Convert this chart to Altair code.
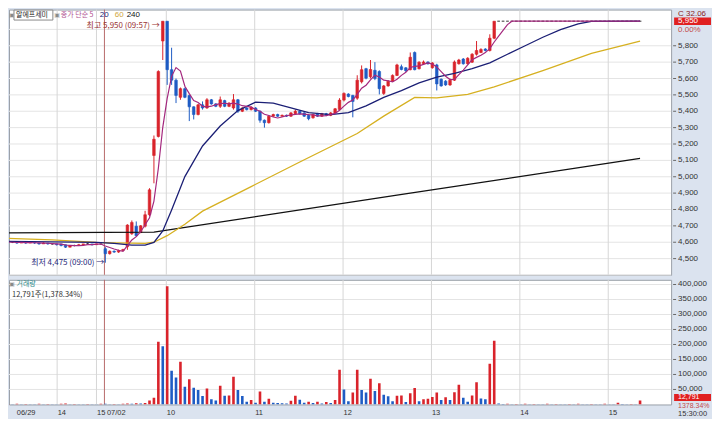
import altair as alt
import numpy as np
import pandas as pd

# ---------------- values ----------------
# 06/29 afternoon, 3-minute candles
open_0629  = [4600,4600,4600,4595,4600,4595,4600,4595,4590,4595,4590,4590,4590,4585,4570,4580,4580,4585,4590,4590,4585,4590]
high_0629  = [4600,4605,4600,4600,4600,4600,4600,4595,4600,4595,4595,4590,4590,4585,4580,4585,4590,4590,4595,4590,4590,4590]
low_0629   = [4595,4595,4590,4595,4590,4595,4590,4585,4590,4585,4585,4580,4575,4565,4570,4575,4580,4585,4585,4580,4585,4585]
close_0629 = [4600,4600,4595,4600,4595,4600,4595,4590,4595,4590,4590,4585,4580,4570,4580,4580,4585,4590,4590,4585,4590,4590]
vol_0629   = [1500,1000,2000,1000,1500,1000,1000,2000,1000,1500,1000,1000,2500,3000,1000,1500,1000,1000,1500,1000,1000,2000]

# 07/02, 3-minute candles (the last 33 bars sit flat at the 5,950 upper limit)
limit_bars = 33
open_0702 = [4560,4530,4545,4540,4550, 4573,4652,4698,4660,4698, 4768,5130,5246,5829,5950,
             5654,5590,5485,5538,5497, 5427,5380,5439,5420,5470, 5445,5430,5465,5430,5420,
             5470,5400,5420,5410,5420, 5400,5345,5330,5370,5380, 5370,5375,5370,5385,5400,
             5390,5375,5360,5385,5370, 5385,5375,5390,5410,5468, 5505,5497,5480,5580,5660,
             5610,5650,5643,5509,5555, 5584,5619,5672,5665,5654, 5759,5660,5690,5701,5666,
             5683,5596,5584,5561,5590, 5690,5719,5690,5700,5748, 5759,5780,5771,5846] + [5950] * limit_bars
high_0702 = [4570,4550,4550,4555,4560, 4710,4733,4727,4705,4792, 4930,5252,5650,5950,5950,
             5788,5600,5545,5545,5500, 5430,5445,5460,5480,5475, 5450,5490,5470,5455,5505,
             5475,5425,5425,5430,5425, 5405,5350,5375,5385,5385, 5380,5380,5395,5410,5405,
             5395,5380,5385,5390,5390, 5390,5395,5420,5480,5515, 5510,5500,5620,5680,5665,
             5713,5700,5650,5560,5590, 5625,5690,5685,5670,5759, 5765,5705,5710,5705,5700,
             5690,5600,5590,5600,5710, 5720,5725,5730,5755,5829, 5785,5785,5870,5950] + [5950] * limit_bars
low_0702  = [4475,4525,4535,4535,4545, 4554,4645,4635,4655,4690, 4760,4960,5240,5713,5561,
             5561,5450,5470,5480,5340, 5350,5375,5410,5415,5440, 5425,5420,5425,5425,5410,
             5390,5395,5405,5405,5395, 5330,5300,5325,5365,5365, 5365,5365,5365,5380,5380,
             5365,5345,5355,5365,5365, 5370,5370,5385,5405,5460, 5485,5363,5470,5570,5595,
             5600,5590,5503,5500,5550, 5580,5615,5650,5640,5650, 5650,5655,5688,5685,5660,
             5527,5550,5555,5555,5585, 5685,5685,5685,5695,5740, 5755,5765,5765,5840] + [5950] * limit_bars
close_0702 = [4530,4545,4540,4550,4555, 4705,4721,4640,4700,4768, 4920,5229,5643,5950,5654,
              5590,5497,5538,5485,5427, 5380,5439,5420,5470,5445, 5430,5470,5430,5450,5470,
              5400,5420,5410,5425,5400, 5345,5330,5370,5380,5370, 5375,5370,5390,5400,5385,
              5370,5355,5380,5370,5385, 5375,5390,5415,5468,5509, 5490,5460,5590,5654,5602,
              5655,5600,5538,5555,5584, 5619,5683,5655,5648,5730, 5654,5700,5701,5690,5695,
              5567,5555,5561,5590,5701, 5713,5690,5724,5748,5771, 5777,5771,5846,5950] + [5950] * limit_bars
vol_0702 = [2000,1000,1500,1000,2000, 3000,2000,4000,3000,5000, 13000,22000,209000,194000,394000,
            112000,90000,142000,59000,84000, 56000,48000,28000,53000,17000, 13000,62000,29000,30000,92000,
            48000,28000,9000,15000,6000, 43000,9000,19000,6000,5000, 4000,3000,12000,29000,16000,
            6000,9000,5000,9000,3500, 8000,5000,15000,116000,50000, 11000,40000,116000,48000,40000,
            86000,45000,71000,32000,27000, 11000,29000,30000,8000,37000, 55000,11000,17000,19000,25000,
            40000,15000,24000,15000,41000, 66000,22000,9000,30000,74000, 20000,17000,136000,212000,
            3000,1500,2000,1000,1500,1000,2000,1000,1500,1000,1000,2000,1000,1500,1000,1000,1500,
            1000,2000,1000,1000,1500,1000,1000,2000,1000,1000,6000,1500,1000,1500,1000,12791]

ma20_g = [0, 20, 24, 28, 31, 33, 35, 37, 40, 44, 48, 52, 56, 60, 64, 68, 73, 77, 81, 85, 89,
          93, 97, 101, 105, 109, 113, 117, 121, 125, 129, 132, 143]
ma20_v = [4605, 4599, 4593, 4582, 4582, 4599, 4669, 4797, 5001, 5188, 5310, 5404, 5456, 5450,
          5421, 5392, 5380, 5392, 5433, 5485, 5526, 5573, 5608, 5631, 5660, 5695, 5748, 5800,
          5852, 5899, 5934, 5949, 5950]
ma60_g = [0, 10, 20, 24, 28, 31, 33, 36, 40, 44, 55, 66, 79, 85, 92, 97, 104, 110, 121, 132, 143]
ma60_v = [4623, 4614, 4599, 4596, 4594, 4593, 4600, 4640, 4710, 4790, 4940, 5090, 5264, 5370,
          5485, 5482, 5503, 5549, 5648, 5753, 5829]
ma240_g = [0, 33, 88, 143]
ma240_v = [4657, 4662, 4888, 5112]

# time axis: bar positions of the hour / date lines and their labels
hour_g   = [11.1, 20.0, 35.8, 55.8, 75.8, 95.8, 115.8, 135.8]
hour_lbl = ["14", "15", "10", "11", "12", "13", "14", "15"]
date_g   = [1.4, 21.8]
date_lbl = ["06/29", "07/02"]
date_line_g = [21.8]

price_ticks = list(range(4500, 5801, 100))
price_grid = list(range(4400, 5901, 100))
vol_ticks = list(range(50000, 400001, 50000))

# ---------------- styles / layout ----------------
W, HP, HV = 664, 266, 125
GMIN, GMAX = 1.333, 148.9
RED, BLUE, DOJI = "#d9232b", "#1f5cc4", "#333333"
C_MA5, C_MA20, C_MA60, C_MA240 = "#a4287e", "#1b1f75", "#d6b020", "#111111"
NUM = "Liberation Sans"
KR = "Noto Sans CJK KR"

opens = open_0629 + open_0702
highs = high_0629 + high_0702
lows = low_0629 + low_0702
closes = close_0629 + close_0702
vols = vol_0629 + vol_0702
df = pd.DataFrame({"g": np.arange(len(opens)), "open": opens, "high": highs,
                   "low": lows, "close": closes, "vol": vols})
df["col"] = np.where(df.close > df.open, RED, np.where(df.close < df.open, BLUE, DOJI))
df["vcol"] = np.where(df.vol > df.vol.shift(1).fillna(0), RED, BLUE)

xs = alt.Scale(domain=[GMIN, GMAX], nice=False, zero=False)
ys = alt.Scale(domain=[4401, 6021], nice=False, zero=False)
vs = alt.Scale(domain=[0, 415600], nice=False)
X = alt.X("g:Q", scale=xs, axis=None)
YP = lambda f: alt.Y(f, scale=ys, axis=None)
YV = lambda f: alt.Y(f, scale=vs, axis=None)
dummy = pd.DataFrame({"k": [0]})


def label(t, x, y, color="#333333", size=8, font=NUM, align="left", baseline="middle"):
    return alt.Chart(dummy).mark_text(text=t, align=align, baseline=baseline, fontSize=size,
                                      font=font, color=color).encode(x=alt.value(x), y=alt.value(y))


def right_axis(values, yenc, fmt=","):
    d = pd.DataFrame({"v": values})
    ticks = alt.Chart(d).mark_rule(color="#666666", strokeWidth=1).encode(
        x=alt.value(W + 2), x2=alt.value(W + 5), y=yenc("v:Q"))
    labels = alt.Chart(d).mark_text(align="left", baseline="middle", fontSize=8, font=NUM,
                                    color="#333333").encode(
        x=alt.value(W + 7), y=yenc("v:Q"), text=alt.Text("v:Q", format=fmt))
    return [ticks, labels]


vgrid = alt.Chart(pd.DataFrame({"g": hour_g})).mark_rule(color="#d6d6d6", strokeWidth=1).encode(x=X)
dline = alt.Chart(pd.DataFrame({"g": date_line_g})).mark_rule(color="#b86a6a", strokeWidth=1).encode(x=X)

# ---------------- price panel ----------------
hgrid = alt.Chart(pd.DataFrame({"p": price_grid})).mark_rule(color="#e4e4e4", strokeWidth=1).encode(
    y=YP("p:Q"))
wick = alt.Chart(df).mark_rule(strokeWidth=1, clip=True).encode(
    x=X, y=YP("low:Q"), y2="high:Q", color=alt.Color("col:N", scale=None))
body = alt.Chart(df).mark_bar(width=2.6, strokeWidth=0.6, clip=True).encode(
    x=X, y=YP("open:Q"), y2="close:Q",
    color=alt.Color("col:N", scale=None), stroke=alt.Stroke("col:N", scale=None))


def ma_line(gs, vals, color, width):
    return alt.Chart(pd.DataFrame({"g": gs, "v": vals})).mark_line(
        color=color, strokeWidth=width, clip=True).encode(x=X, y=YP("v:Q"))


l240 = ma_line(ma240_g, ma240_v, C_MA240, 1.3)
l60 = ma_line(ma60_g, ma60_v, C_MA60, 1.3)
l20 = ma_line(ma20_g, ma20_v, C_MA20, 1.3)
l5 = alt.Chart(df).transform_window(ma5="mean(close)", frame=[-4, 0], sort=[{"field": "g"}]).mark_line(
    color=C_MA5, strokeWidth=1.2, clip=True).encode(x=X, y=YP("ma5:Q"))

name_box = alt.Chart(dummy).mark_rect(fill="white", stroke="#8a8a8a", strokeWidth=1).encode(
    x=alt.value(5), x2=alt.value(44), y=alt.value(0.5), y2=alt.value(10.5))
header = [
    label("▣", 0, 5, "#8a8a8a", 6, "DejaVu Sans"),
    name_box,
    label("알에프세미", 7, 5.5, "#222222", 7, KR),
    label("▣", 45.5, 5, "#8a8a8a", 6, "DejaVu Sans"),
    label("종가 단순 5", 52, 5.5, "#b0508f", 7, KR),
    label("20", 91, 5.5, C_MA20, 8),
    label("60", 106, 5.5, "#cfa640", 8),
    label("240", 118, 5.5, "#111111", 8),
]

hi_note = alt.Chart(dummy).mark_text(text="최고 5,950 (09:57) →", align="right", baseline="middle",
                                     fontSize=8, font=KR, color="#993333", dx=-3, dy=5).encode(
    x=alt.XDatum(35, scale=xs, axis=None), y=alt.YDatum(5950, scale=ys, axis=None))
lo_note = alt.Chart(dummy).mark_text(text="최저 4,475 (09:00) →", align="right", baseline="middle",
                                     fontSize=8, font=KR, color="#1f2a7a", dx=-1).encode(
    x=alt.XDatum(22, scale=xs, axis=None), y=alt.YDatum(4475, scale=ys, axis=None))

last_box = alt.Chart(dummy).mark_rect(fill="#e02020").encode(
    x=alt.value(W + 3), x2=alt.value(W + 40),
    y=alt.YDatum(5973, scale=ys, axis=None), y2=alt.Y2Datum(5927))
last_txt = alt.Chart(dummy).mark_text(text="5,950", align="left", baseline="middle", fontSize=8,
                                      font=NUM, color="white").encode(
    x=alt.value(W + 7), y=alt.YDatum(5950, scale=ys, axis=None))
pct_txt = alt.Chart(dummy).mark_text(text="0.00%", align="left", baseline="middle", fontSize=8,
                                     font=NUM, color="#c24a4a", dy=9).encode(
    x=alt.value(W + 7), y=alt.YDatum(5950, scale=ys, axis=None))
chg_txt = label("C 32.06", W + 7, 0, "#8b1a1a", 8, NUM, baseline="top")

price = alt.layer(hgrid, vgrid, dline, wick, body, l240, l60, l20, l5,
                  *right_axis(price_ticks, YP), *header,
                  hi_note, lo_note, last_box, last_txt, pct_txt, chg_txt).properties(width=W, height=HP)

# ---------------- volume panel ----------------
vhgrid = alt.Chart(pd.DataFrame({"v": vol_ticks})).mark_rule(color="#e4e4e4", strokeWidth=1).encode(
    y=YV("v:Q"))
vbars = alt.Chart(df).mark_bar(width=2.6, clip=True).encode(
    x=X, y=YV("vol:Q"), color=alt.Color("vcol:N", scale=None))

hour_txt = alt.Chart(pd.DataFrame({"g": hour_g, "t": hour_lbl})).mark_text(
    align="left", baseline="top", fontSize=7.5, font=NUM, color="#333333", dx=0.5).encode(
    x=X, y=alt.value(HV + 5), text="t:N")
date_txt = alt.Chart(pd.DataFrame({"g": date_g, "t": date_lbl})).mark_text(
    align="left", baseline="top", fontSize=7.5, font=NUM, color="#333333", dx=2.5).encode(
    x=X, y=alt.value(HV + 5), text="t:N")

vbox = alt.Chart(dummy).mark_rect(fill="#e02020").encode(
    x=alt.value(W + 3), x2=alt.value(W + 40), y=alt.value(114.5), y2=alt.value(121.5))
vol_notes = [
    label("▣", 0, 4, "#8a8a8a", 6, "DejaVu Sans"),
    label("거래량", 7.5, 4, "#2c8c8c", 7, KR),
    label("12,791주(1,378.34%)", 3, 15, "#333333", 7.5, KR),
    vbox,
    label("12,791", W + 7, 118, "white", 7),
    label("1378.34%", W + 7, 126.5, "#c24a4a", 7),
    label("15:30:00", W + 7, HV + 5.5, "#333333", 7.5, baseline="top"),
]

volume = alt.layer(vhgrid, vgrid, dline, vbars, *right_axis(vol_ticks, YV),
                   hour_txt, date_txt, *vol_notes).properties(width=W, height=HV)

chart = alt.vconcat(price, volume, spacing=2).properties(
    background="#dbe3ef", padding=0
).configure_view(fill="white", stroke="#9aa0a8", strokeWidth=1)

chart.save("out.html", embed_options={"renderer": "svg", "actions": False})
